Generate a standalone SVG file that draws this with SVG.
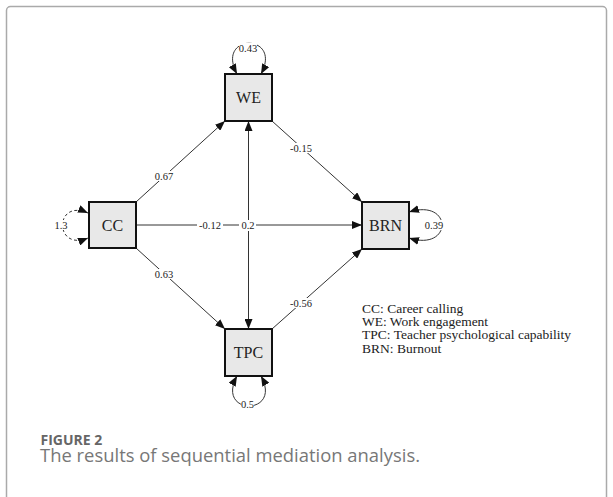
<svg xmlns="http://www.w3.org/2000/svg" width="613" height="497" viewBox="0 0 613 497">
  <defs>
    <marker id="ah" markerUnits="userSpaceOnUse" markerWidth="10" markerHeight="8" refX="10" refY="4" orient="auto-start-reverse">
      <path d="M0,0 L10,4 L0,8 z" fill="#111"/>
    </marker>
    <style>
      .box { fill: #e8e8e8; stroke: #111; stroke-width: 2; }
      .nl { font-family: "Liberation Serif", "Times New Roman", serif; font-size: 16px; fill: #222; text-anchor: middle; }
      .edge { fill: none; stroke: #333; stroke-width: 1; }
      .dash { stroke-dasharray: 3 2.5; }
      .el { font-family: "Liberation Serif", "Times New Roman", serif; font-size: 10.5px; fill: #222; text-anchor: middle; }
      .lb { fill: #fff; }
      .lg { font-family: "Liberation Serif", "Times New Roman", serif; font-size: 13.5px; fill: #222; }
      .fig { font-family: "Open Sans", "Liberation Sans", sans-serif; font-size: 14px; font-weight: bold; fill: #666; }
      .cap { font-family: "Open Sans", "Liberation Sans", sans-serif; font-size: 17.5px; fill: #777; }
    </style>
  </defs>
  <rect x="0" y="0" width="613" height="497" fill="#fff"/>
  <rect x="6.5" y="6.5" width="600" height="500" rx="4" fill="none" stroke="#aaa" stroke-width="1.5"/>

  <g id="connectors">
    <line class="edge" x1="136" y1="202" x2="225" y2="121" marker-end="url(#ah)"/>
    <line class="edge" x1="136" y1="248" x2="225" y2="329" marker-end="url(#ah)"/>
    <line class="edge" x1="272" y1="121" x2="362" y2="202" marker-end="url(#ah)"/>
    <line class="edge" x1="272" y1="329" x2="362" y2="249" marker-end="url(#ah)"/>
    <line class="edge" x1="136" y1="225" x2="362" y2="225" marker-end="url(#ah)"/>
    <line class="edge" x1="248.5" y1="121" x2="248.5" y2="329" marker-start="url(#ah)" marker-end="url(#ah)"/>
    <path class="edge" d="M237,74 C215,33 283,33 261,74" marker-start="url(#ah)" marker-end="url(#ah)"/>
    <path class="edge dash" d="M88,213 C54,198 54,252 88,238" marker-start="url(#ah)" marker-end="url(#ah)"/>
    <path class="edge" d="M409,212 C453,198 453,252 409,238" marker-start="url(#ah)" marker-end="url(#ah)"/>
    <path class="edge" d="M237,376 C215,416 283,416 261,376" marker-start="url(#ah)" marker-end="url(#ah)"/>

    <rect class="lb" x="155" y="171" width="18" height="10"/>
    <text class="el" x="164" y="180">0.67</text>
    <rect class="lb" x="155" y="269" width="18" height="10"/>
    <text class="el" x="164" y="278">0.63</text>
    <rect class="lb" x="290" y="143" width="21" height="10"/>
    <text class="el" x="301" y="152">-0.15</text>
    <rect class="lb" x="290" y="298" width="21" height="10"/>
    <text class="el" x="301" y="307">-0.56</text>
    <rect class="lb" x="197" y="220" width="26" height="11"/>
    <text class="el" x="210" y="229">-0.12</text>
    <rect class="lb" x="239" y="220" width="17" height="11"/>
    <text class="el" x="248" y="229">0.2</text>
    <rect class="lb" x="239" y="43" width="18" height="10"/>
    <text class="el" x="248" y="51.5">0.43</text>
    <rect class="lb" x="55" y="220" width="12" height="10"/>
    <text class="el" x="61" y="229">1.3</text>
    <rect class="lb" x="426" y="220" width="17" height="10"/>
    <text class="el" x="434" y="229">0.39</text>
    <rect class="lb" x="241" y="399" width="13" height="10"/>
    <text class="el" x="247.5" y="407.5">0.5</text>
  </g>

  <g id="node-WE">
    <rect class="box" x="225" y="74" width="47" height="47"/>
    <text class="nl" x="248.5" y="103">WE</text>
  </g>
  <g id="node-CC">
    <rect class="box" x="89" y="202" width="47" height="46"/>
    <text class="nl" x="112.5" y="230.5">CC</text>
  </g>
  <g id="node-BRN">
    <rect class="box" x="362" y="202" width="47" height="47"/>
    <text class="nl" x="385.5" y="230.5">BRN</text>
  </g>
  <g id="node-TPC">
    <rect class="box" x="225" y="329" width="47" height="47"/>
    <text class="nl" x="248.5" y="358">TPC</text>
  </g>

  <g id="legend">
    <text class="lg" x="362" y="312.5">CC: Career calling</text>
    <text class="lg" x="362" y="325.9">WE: Work engagement</text>
    <text class="lg" x="362" y="339.3">TPC: Teacher psychological capability</text>
    <text class="lg" x="362" y="352.7">BRN: Burnout</text>
  </g>

  <g id="caption">
    <text class="fig" x="40.5" y="444.5">FIGURE 2</text>
    <text class="cap" x="40" y="462" textLength="380" lengthAdjust="spacingAndGlyphs">The results of sequential mediation analysis.</text>
  </g>
</svg>
